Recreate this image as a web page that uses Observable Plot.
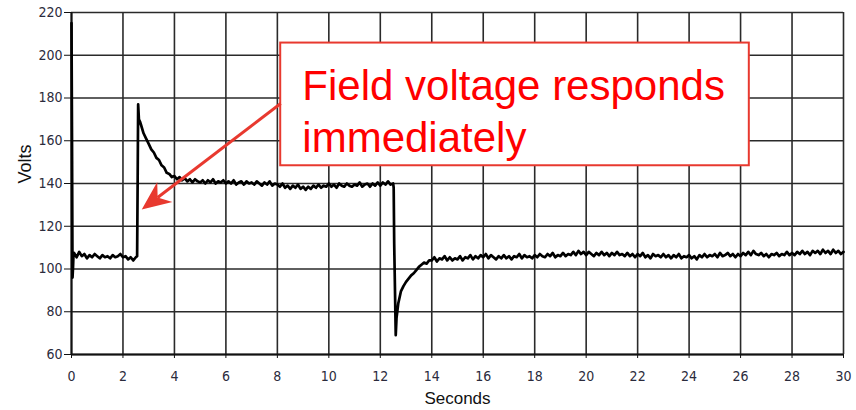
<!DOCTYPE html>
<html>
<head>
<meta charset="utf-8">
<script src="https://cdn.jsdelivr.net/npm/d3@7"></script>
<script src="https://cdn.jsdelivr.net/npm/@observablehq/plot@0.6"></script>
<style>
  html, body { margin: 0; padding: 0; background: #fff; }
</style>
</head>
<body>
<div id="chart"></div>
<script>
// ---- tick labels ----
const xTicks = [0, 2, 4, 6, 8, 10, 12, 14, 16, 18, 20, 22, 24, 26, 28, 30];
const yTicks = [60, 80, 100, 120, 140, 160, 180, 200, 220];
const xLabel = "Seconds";
const yLabel = "Volts";

// ---- field voltage trace ----
// start-up spike (explicit times)
const startT = [0, 0.02, 0.04, 0.06, 0.08];
const startV = [215, 160, 96, 101, 107.5];
// first steady level, sampled every 0.1 s from 0.1 s to 2.5 s
const base1Start = 0.1;
const base1V = [107.5, 105.5, 108, 106, 107, 105, 106.5, 105.5, 107, 106,
                105, 106.5, 105.5, 106, 105, 106.5, 105.5, 106, 107, 105.5,
                106, 104.5, 105.5, 104, 105.5];
// step up and decay (explicit times)
const riseT = [2.55, 2.57, 2.59, 2.62, 2.66, 2.7, 2.8, 2.9, 3.0, 3.1, 3.2, 3.3, 3.4, 3.5, 3.6, 3.7, 3.8, 3.9, 4.0, 4.1, 4.2, 4.3];
const riseV = [106, 140, 177, 170, 169, 167.5, 163.5, 161, 158.5, 156, 154.5, 152, 151, 148.5, 147.5, 145, 144.5, 143, 143.5, 142, 143, 141.5];
// plateau, sampled every 0.1 s from 4.4 s to 12.5 s
const plateauStart = 4.4;
const plateauV = [142.5, 141, 142, 140.5, 142, 141, 140.5,
                  141.5, 140, 141.5, 140.5, 142, 140, 141, 140.5, 141.5, 140,
                  141, 140, 141.5, 139.5, 140.5, 141, 139.5, 141, 140, 140.5,
                  139.5, 141, 140, 139, 140.5, 139.5, 141, 139, 140, 139.5,
                  138.5, 140, 138, 139, 137.5, 139, 138, 139.5, 137.5, 138.5,
                  137, 138.5, 137.5, 139, 138, 139.5, 138, 139, 138.5, 140,
                  138.5, 139.5, 138, 140, 139, 138.5, 140, 139, 138.5, 139.5,
                  139, 140.5, 138.5, 139.5, 140, 138.5, 140, 139, 140.5, 139,
                  140.5, 139.5, 141, 139.5, 140];
// step down and recovery (explicit times)
const dropT = [12.52, 12.54, 12.6, 12.63, 12.7, 12.8, 12.9, 13.0, 13.1, 13.2, 13.3, 13.4, 13.5, 13.6, 13.7, 13.8, 13.9];
const dropV = [138, 112, 69, 77, 84, 89.5, 92, 94, 95.5, 97, 98, 99.5, 101, 102, 103, 102.5, 104];
// final level, sampled every 0.1 s from 14.0 s to 30.0 s
const finalStart = 14.0;
const finalV = [104, 105.5, 103.5, 105, 104.5, 106, 104, 105.5, 104, 105,
                104.5, 106, 104, 105.5, 105, 106.5, 104.5, 106, 105, 106.5,
                105.5, 107, 105, 106.5, 105.5, 104.5, 106, 105, 106.5, 105,
                106, 104.5, 106, 105.5, 107, 105, 106.5, 105.5, 106, 105,
                106.5, 105.5, 107, 106, 105.5, 107, 106, 107.5, 105.5, 106.5,
                106, 107.5, 106, 107, 106.5, 108, 106.5, 108.5, 107, 108,
                106.5, 108, 107, 106, 107.5, 106.5, 108, 106.5, 107.5, 106,
                107.5, 106.5, 108, 106.5, 107, 106, 107.5, 106, 107, 105.5,
                107, 106, 107.5, 105.5, 106.5, 105, 107, 106, 106.5, 105.5,
                107, 105.5, 106.5, 105, 106.5, 105.5, 107, 105, 106, 105.5,
                106.5, 105, 106, 104.5, 106.5, 105.5, 107, 105.5, 106.5, 106,
                107, 105.5, 107.5, 106, 106.5, 107.5, 106, 107, 105.5, 107,
                106, 107.5, 106.5, 108, 106.5, 108.5, 107, 106.5, 107.5, 106,
                107, 105.5, 107, 106.5, 107.5, 106, 107, 106.5, 108, 106.5,
                107.5, 106.5, 108, 107, 108.5, 107, 108, 106.5, 108.5, 107.5,
                108.5, 107, 109, 107.5, 108.5, 107, 109, 107.5, 108.5, 107,
                108];
const sampleStep = 0.1;

// ---- annotation ----
const noteText = "Field voltage responds\nimmediately";
const noteBox = [8.13, 26.34, 148.3, 205.7];   // x1, x2, y1, y2 (data units)
const noteAt = [8.97, 196.6];                  // text start (x, cap-top y)
const arrowFrom = [8.13, 177.4];
const arrowTo = [2.73, 127.8];

// ---- build the table ----
const series = [];
startT.forEach((t, i) => series.push({t, v: startV[i]}));
base1V.forEach((v, i) => series.push({t: +(base1Start + i * sampleStep).toFixed(2), v}));
riseT.forEach((t, i) => series.push({t, v: riseV[i]}));
plateauV.forEach((v, i) => series.push({t: +(plateauStart + i * sampleStep).toFixed(2), v}));
dropT.forEach((t, i) => series.push({t, v: dropV[i]}));
finalV.forEach((v, i) => series.push({t: +(finalStart + i * sampleStep).toFixed(2), v}));

// ---- layout ----
const W = 856, H = 410, ML = 71, MR = 13, MT = 12, MB = 56;
const xDomain = [0, 30], yDomain = [60, 220];
const px = d3.scaleLinear(xDomain, [ML, W - MR]);
const py = d3.scaleLinear(yDomain, [H - MB, MT]);

// arrow geometry (pixel direction from the scales)
const red = "#e8392f";
const sx = px(arrowFrom[0]), sy = py(arrowFrom[1]);
const tx = px(arrowTo[0]), ty = py(arrowTo[1]);
const len = Math.hypot(sx - tx, sy - ty);
const ux = (sx - tx) / len, uy = (sy - ty) / len;
const headLen = 29, notch = 20, halfW = 12.5;
const lineEnd = [px.invert(tx + ux * notch), py.invert(ty + uy * notch)];
const angle = Math.atan2(ty - sy, tx - sx) * 180 / Math.PI + 90; // symbol points up
const stealth = {
  draw(ctx) {
    ctx.moveTo(0, 0);
    ctx.lineTo(-halfW, headLen);
    ctx.lineTo(0, notch);
    ctx.lineTo(halfW, headLen);
    ctx.closePath();
  }
};

const tickFont = "'Liberation Sans Narrow', 'DejaVu Sans Condensed', 'Liberation Sans', sans-serif";

const chart = Plot.plot({
  width: W, height: H,
  marginLeft: ML, marginRight: MR, marginTop: MT, marginBottom: MB,
  x: {domain: xDomain},
  y: {domain: yDomain},
  style: {fontFamily: tickFont, fontSize: "14px", background: "#fff", color: "#2b2b3c"},
  marks: [
    Plot.gridX(xTicks, {stroke: "#2a2a2a", strokeOpacity: 1, strokeWidth: 1.6}),
    Plot.gridY(yTicks, {stroke: "#2a2a2a", strokeOpacity: 1, strokeWidth: 1.6}),
    Plot.axisX(xTicks, {tickSize: 4, tickPadding: 13, label: null, stroke: "#111", fill: "#2b2b3c"}),
    Plot.axisY(yTicks, {tickSize: 7, tickPadding: 2, label: null, stroke: "#111", fill: "#2b2b3c"}),
    Plot.ruleX([0], {stroke: "#111", strokeWidth: 2}),
    Plot.ruleY([60], {stroke: "#111", strokeWidth: 2}),
    Plot.line(series, {x: "t", y: "v", stroke: "#000", strokeWidth: 2.7, strokeLinejoin: "round"}),
    Plot.text([xLabel], {frameAnchor: "bottom", text: d => d, dy: 44, lineAnchor: "middle",
      fontFamily: "'Liberation Sans', Arial, sans-serif", fontSize: 17, fill: "#111"}),
    Plot.text([yLabel], {frameAnchor: "left", text: d => d, dx: -46, rotate: -90, lineAnchor: "middle",
      fontFamily: "'Liberation Sans', Arial, sans-serif", fontSize: 18, fill: "#111"}),
    Plot.rect([noteBox], {x1: d => d[0], x2: d => d[1], y1: d => d[2], y2: d => d[3],
      fill: "#fff", stroke: red, strokeWidth: 2}),
    Plot.text([noteText], {x: noteAt[0], y: noteAt[1], text: d => d, textAnchor: "start", lineAnchor: "top",
      lineHeight: 1.24, fontFamily: "'Liberation Sans', Arial, sans-serif", fontSize: 42, fill: "#ff0000"}),
    Plot.link([0], {x1: arrowFrom[0], y1: arrowFrom[1], x2: lineEnd[0], y2: lineEnd[1],
      stroke: red, strokeWidth: 3}),
    Plot.dot([0], {x: arrowTo[0], y: arrowTo[1], symbol: stealth, r: 10, fill: red, stroke: "none", rotate: angle})
  ]
});
document.getElementById("chart").appendChild(chart);
</script>
</body>
</html>
